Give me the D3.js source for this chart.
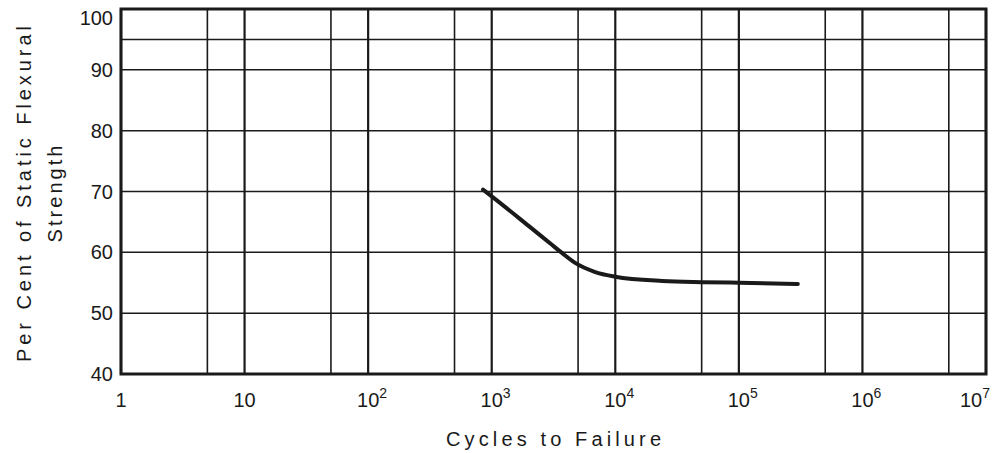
<!DOCTYPE html>
<html>
<head>
<meta charset="utf-8">
<script src="https://cdn.jsdelivr.net/npm/d3@7"></script>
<style>
	body { margin: 0; background: #fff; }
	svg { display: block; font-family: 'Liberation Sans', Arial, sans-serif; fill: #1a1a1a; }
</style>
</head>
<body>
<div class="chart"></div>
<script>
const cycles = [850, 1000, 2000, 3000, 3700, 4700, 6800, 10000, 24000, 50000, 100000, 300000]
const strength = [70.3, 69.2, 64.3, 61.4, 59.9, 58.3, 56.8, 56.0, 55.3, 55.1, 55.0, 54.8]

const xDecades = [1, 10, 100, 1000, 10000, 100000, 1000000, 10000000]
const xMinor = [5, 50, 500, 5000, 50000, 500000, 5000000]
const xExponents = ['', '', '2', '3', '4', '5', '6', '7']
const yTicks = [40, 50, 60, 70, 80, 90, 100]
const yGrid = [40, 50, 60, 70, 80, 90, 95, 100]

const width = 1001
const height = 453
const margin = { top: 9, right: 15, bottom: 79, left: 121 }
const chartWidth = width - margin.left - margin.right
const chartHeight = height - margin.top - margin.bottom
const INK = '#1a1a1a'

const scaleX = d3.scaleLog().domain([1, 1e7]).range([0, chartWidth])
const scaleY = d3.scaleLinear().domain([40, 100]).range([chartHeight, 0])

function translate(x, y) {
	return `translate(${x}, ${y})`
}

const svg = d3.select('.chart').append('svg')
	.attr('width', width)
	.attr('height', height)

const g = svg.append('g').attr('transform', translate(margin.left, margin.top))

// grid
g.append('g').selectAll('line').data(yGrid).join('line')
	.attr('x1', 0).attr('x2', chartWidth)
	.attr('y1', d => scaleY(d)).attr('y2', d => scaleY(d))
	.attr('stroke', INK).attr('stroke-width', 1.5)

g.append('g').selectAll('line').data(xMinor).join('line')
	.attr('x1', d => scaleX(d)).attr('x2', d => scaleX(d))
	.attr('y1', 0).attr('y2', chartHeight)
	.attr('stroke', INK).attr('stroke-width', 1.6)

g.append('g').selectAll('line').data(xDecades).join('line')
	.attr('x1', d => scaleX(d)).attr('x2', d => scaleX(d))
	.attr('y1', 0).attr('y2', chartHeight)
	.attr('stroke', INK).attr('stroke-width', 2.2)

// frame
g.append('rect')
	.attr('width', chartWidth).attr('height', chartHeight)
	.attr('fill', 'none').attr('stroke', INK).attr('stroke-width', 3)

// curve
const line = d3.line()
	.x(d => scaleX(d[0]))
	.y(d => scaleY(d[1]))
	.curve(d3.curveMonotoneX)

g.append('path')
	.datum(d3.zip(cycles, strength))
	.attr('d', line)
	.attr('fill', 'none')
	.attr('stroke', INK)
	.attr('stroke-width', 4)
	.attr('stroke-linecap', 'round')
	.attr('stroke-linejoin', 'round')

// y tick labels (top one sits just under the frame)
g.append('g').selectAll('text').data(yTicks).join('text')
	.attr('x', -8)
	.attr('y', d => Math.max(scaleY(d) + 7, 16))
	.attr('text-anchor', 'end')
	.style('font-size', '20px')
	.text(d => d)

// x tick labels
const xLabel = g.append('g').attr('transform', translate(0, chartHeight + 33))
	.selectAll('g').data(xDecades).join('g')
	.attr('transform', d => translate(scaleX(d), 0))

xLabel.append('text')
	.attr('class', 'base')
	.attr('text-anchor', 'middle')
	.style('font-size', '20px')
	.text((d, i) => i === 0 ? '1' : '10')

xLabel.append('text')
	.attr('class', 'sup')
	.attr('x', function() {
		return this.parentNode.querySelector('.base').getComputedTextLength() / 2
	})
	.attr('y', -9)
	.style('font-size', '14px')
	.text((d, i) => xExponents[i])

// last label would run off the page: pull it left
xLabel.filter((d, i) => i === xDecades.length - 1).each(function() {
	const grp = d3.select(this)
	const w = grp.select('.base').node().getComputedTextLength()
	const s = grp.select('.sup').node().getComputedTextLength()
	grp.selectAll('text').attr('dx', -(w / 2 + s - 4))
})

// axis titles
g.append('text')
	.attr('x', chartWidth / 2)
	.attr('y', chartHeight + 72)
	.attr('text-anchor', 'middle')
	.attr('textLength', 215)
	.attr('lengthAdjust', 'spacing')
	.style('font-size', '20px')
	.text('Cycles to Failure')

const yTitle = svg.append('g').attr('transform', translate(0, 194) + ' rotate(-90)')

yTitle.append('text')
	.attr('x', 0).attr('y', 31)
	.attr('text-anchor', 'middle')
	.attr('textLength', 336)
	.attr('lengthAdjust', 'spacing')
	.style('font-size', '20px')
	.text('Per Cent of Static Flexural')

yTitle.append('text')
	.attr('x', 0).attr('y', 62)
	.attr('text-anchor', 'middle')
	.attr('textLength', 97)
	.attr('lengthAdjust', 'spacing')
	.style('font-size', '20px')
	.text('Strength')
</script>
</body>
</html>
